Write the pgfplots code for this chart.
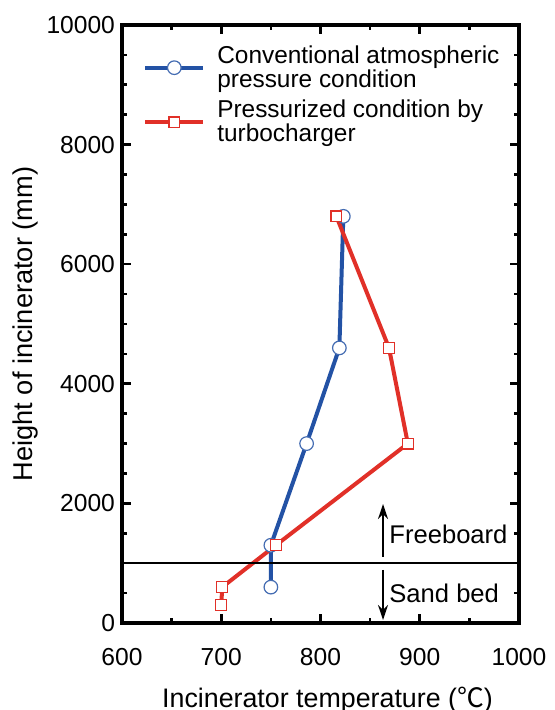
\documentclass[border=0pt]{standalone}
\usepackage{fontspec}
\setmainfont{Liberation Sans}
\newfontfamily\cjk{Noto Sans CJK JP}
\usepackage{pgfplots}
\pgfplotsset{compat=1.18}
\usetikzlibrary{arrows.meta}
\definecolor{cblue}{RGB}{35,82,165}
\definecolor{cred}{RGB}{225,48,40}
\begin{document}
\begin{tikzpicture}
\begin{axis}[
  at={(0,0)}, anchor=south west,
  scale only axis, width=198.5pt, height=299pt,
  xmin=600, xmax=1000, ymin=0, ymax=10000,
  xtick={600,700,...,1000}, ytick={0,2000,...,10000},
  minor x tick num=1, minor y tick num=3,
  tick align=inside,
  major tick length=4.5pt, minor tick length=2.6pt,
  every tick/.style={black, line width=1.3pt},
  axis line style={line width=1.6pt},
  scaled ticks=false,
  /pgf/number format/assume math mode=true,
  /pgf/number format/set thousands separator={},
  ticklabel style={font=\fontsize{12.3}{14}\selectfont},
  xticklabel style={anchor=base, yshift=-21pt},
  xlabel={Incinerator temperature ({\cjk ℃})},
  ylabel={Height of incinerator (mm)},
  xlabel style={font=\fontsize{13.4}{15}\selectfont, at={(axis description cs:0.5,0)}, anchor=base, yshift=-42pt, xshift=3.5pt},
  ylabel style={font=\fontsize{13.6}{15}\selectfont, at={(axis description cs:-0.2242,0.5)}, anchor=base},
  legend style={at={(rel axis cs:0.0376,0.98)}, anchor=north west, draw=none, fill=none,
    font=\fontsize{12.2}{12}\selectfont, align=left, row sep=1pt,
    /tikz/every odd column/.append style={column sep=4pt}},
  legend cell align=left,
  legend image code/.code={\draw[mark repeat=2,mark phase=2,#1] plot coordinates {(0pt,0pt)(14.5pt,0pt)(29pt,0pt)};},
]
\addplot[cblue, line width=2pt, mark=*, mark size=3.4pt, mark options={fill=white, draw=cblue!85!white, line width=0.6pt}]
  coordinates {(750,600) (750,1300) (786,3000) (819,4600) (823,6800)};
\addlegendentry{Conventional atmospheric\\pressure condition}
\addplot[cred, line width=2pt, mark=square*, mark size=2.7pt, mark options={fill=white, draw=cred, line width=0.6pt}]
  coordinates {(700,300) (701,600) (755,1300) (888,3000) (869,4600) (816,6800)};
\addlegendentry{Pressurized condition by\\turbocharger}
\addplot[black, line width=0.7pt, forget plot] coordinates {(600,1000) (1000,1000)};
\draw[-{Stealth[length=7.5pt,width=5pt]}, line width=0.9pt] (axis cs:863,1110) -- (axis cs:863,1990);
\draw[-{Stealth[length=7.5pt,width=5pt]}, line width=0.9pt] (axis cs:863,890) -- (axis cs:863,50);
\node[anchor=west, font=\fontsize{12.8}{14}\selectfont, inner sep=0pt] at (axis cs:869,1480) {Freeboard};
\node[anchor=west, font=\fontsize{12.8}{14}\selectfont, inner sep=0pt] at (axis cs:869,495) {Sand bed};
\end{axis}
\pgfresetboundingbox
\useasboundingbox (-61pt,-43.5pt) rectangle (216pt,311.5pt);
\end{tikzpicture}
\end{document}
